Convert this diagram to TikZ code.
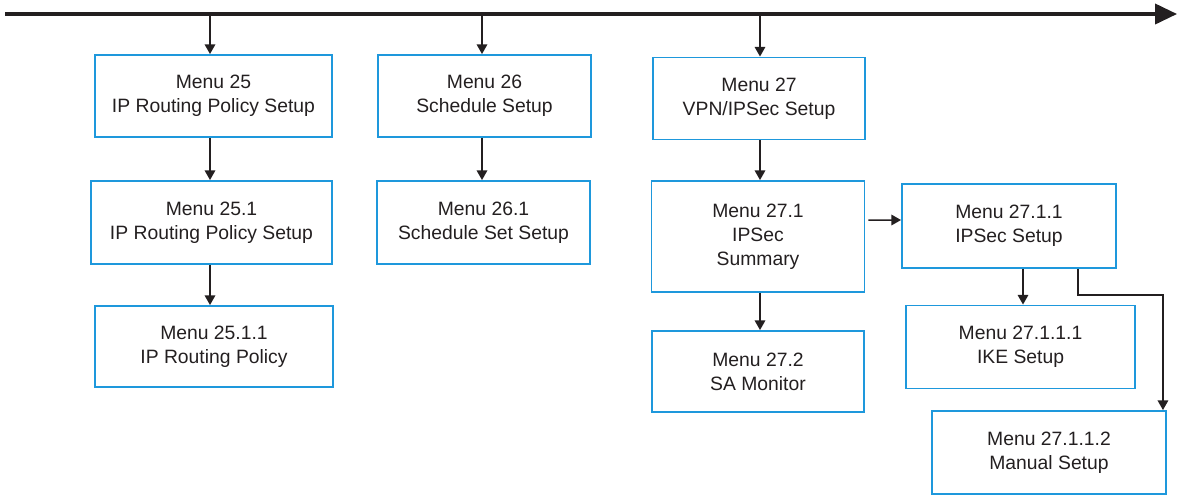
\documentclass[tikz,border=0pt]{standalone}
\usepackage{fontspec}
\setmainfont{Liberation Sans}
\usetikzlibrary{arrows.meta}
\definecolor{boxblue}{RGB}{30,152,220}
\definecolor{inkgray}{RGB}{35,31,32}
\tikzset{
  menubox/.style={draw=boxblue, line width=1.1pt, text=inkgray, minimum width=#1,
    minimum height=1.64cm, align=center, inner sep=0pt,
    font=\fontsize{11}{13.6}\selectfont},
  menubox/.default=4.26cm,
  link/.style={draw=inkgray, line width=0.85pt, -{Triangle[length=5.5pt,width=6pt]}},
  axisline/.style={draw=inkgray, line width=1.8pt, -{Triangle[length=12.5pt,width=11.5pt]}},
}
\begin{document}
\begin{tikzpicture}[x=0.02cm, y=-0.02cm]
 \useasboundingbox (0,0) rectangle (1182,495);
 % time line
 \coordinate (axstart) at (5,14);
 \coordinate (axend) at (1177,14);
 \coordinate (t25) at (210,14);
 \coordinate (t26) at (482,14);
 \coordinate (t27) at (760,14);
 \draw[axisline] (axstart) -- (axend);
 % menu 25
 \node[menubox=4.74cm] (m25) at (213.5,96) {Menu 25\\IP Routing Policy Setup};
 \node[menubox=4.82cm, minimum height=1.66cm] (m251) at (211.5,222.5) {Menu 25.1\\IP Routing Policy Setup};
 \node[menubox=4.76cm, minimum height=1.62cm] (m2511) at (214,346.5) {Menu 25.1.1\\IP Routing Policy};
 % menu 26
 \node[menubox] (m26) at (484.5,96) {Menu 26\\Schedule Setup};
 \node[menubox, minimum height=1.66cm] (m261) at (483.5,222.5) {Menu 26.1\\Schedule Set Setup};
 % menu 27
 \node[menubox=4.24cm] (m27) at (759,98.5) {Menu 27\\VPN/IPSec Setup};
 \node[menubox, minimum height=2.22cm] (m271) at (758,236.5) {Menu 27.1\\IPSec\\Summary};
 \node[menubox=4.24cm, minimum height=1.62cm] (m272) at (758,371.5) {Menu 27.2\\SA Monitor};
 \node[menubox=4.28cm, minimum height=1.68cm] (m2711) at (1009,226) {Menu 27.1.1\\IPSec Setup};
 \node[menubox=4.58cm, minimum height=1.66cm] (m27111) at (1020.5,347) {Menu 27.1.1.1\\IKE Setup};
 \node[menubox=4.68cm, minimum height=1.66cm] (m27112) at (1049,452.5) {Menu 27.1.1.2\\Manual Setup};
 % links
 \draw[link] (t25) -- (t25 |- m25.north);
 \draw[link] (t26) -- (t26 |- m26.north);
 \draw[link] (t27) -- (t27 |- m27.north);
 \draw[link] (t25 |- m25.south) -- (t25 |- m251.north);
 \draw[link] (t25 |- m251.south) -- (t25 |- m2511.north);
 \draw[link] (t26 |- m26.south) -- (t26 |- m261.north);
 \draw[link] (t27 |- m27.south) -- (t27 |- m271.north);
 \draw[link] (t27 |- m271.south) -- (t27 |- m272.north);
 \draw[link, shorten <=0.06cm] (m271.east |- m2711.west) ++(0,-6) -- ([yshift=0.12cm]m2711.west);
 \draw[link] ([xshift=0.28cm]m2711.south) -- ([xshift=0.28cm]m2711.south |- m27111.north);
 \draw[link] ([xshift=1.38cm]m2711.south) -- ++(0,26) -| ([xshift=-0.08cm]m27112.north east);
\end{tikzpicture}
\end{document}
